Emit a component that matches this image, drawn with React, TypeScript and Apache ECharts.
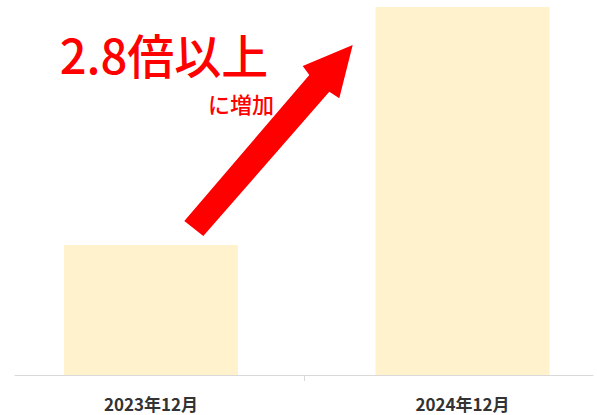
import React, { useEffect, useRef } from "react";
import * as echarts from "echarts";

const categories = ["2023年12月", "2024年12月"];
const values = [100, 283];
const headline = "2.8倍以上";
const subline = "に増加";
const axisSlots = ["", "", ""];

export default function App() {
  const ref = useRef<HTMLDivElement>(null);
  useEffect(() => {
    if (!ref.current) return;
    const chart = echarts.init(ref.current, undefined, { renderer: "svg" });
    const font = "'Noto Sans CJK JP', 'Noto Sans', sans-serif";
    chart.setOption({
      animation: false,
      backgroundColor: "#ffffff",
      grid: [
        { left: 151, right: 134.5, top: 7, bottom: 40 },
        { left: 15, right: 4, top: 7, bottom: 40 },
      ],
      xAxis: [
        {
          type: "category",
          gridIndex: 0,
          data: categories,
          boundaryGap: false,
          axisLine: { show: false },
          axisTick: { show: false },
          axisLabel: {
            color: "#333333",
            fontSize: 17,
            fontWeight: "bold",
            fontFamily: font,
            margin: 20,
          },
        },
        {
          type: "category",
          gridIndex: 1,
          data: axisSlots,
          boundaryGap: false,
          axisLine: { show: true, lineStyle: { color: "#d9d9d9", width: 1 } },
          axisTick: {
            show: true,
            length: 6,
            interval: (i: number) => i === 1,
            lineStyle: { color: "#d9d9d9" },
          },
          axisLabel: { show: false },
        },
      ],
      yAxis: [
        { type: "value", gridIndex: 0, min: 0, max: 283, show: false },
        { type: "value", gridIndex: 1, min: 0, max: 283, show: false },
      ],
      series: [
        {
          type: "bar",
          xAxisIndex: 0,
          yAxisIndex: 0,
          data: values,
          barWidth: 174,
          itemStyle: { color: "#FFF2CC" },
          z: 1,
        },
      ],
      graphic: [
        {
          type: "polygon",
          shape: {
            points: [
              [184.3, 221],
              [309.3, 75],
              [302.7, 66],
              [352.7, 45],
              [339.3, 98.3],
              [329.3, 91.7],
              [203.3, 236],
            ],
          },
          style: { fill: "#FF0000" },
          z: 10,
        },
        {
          type: "text",
          x: 164,
          y: 53,
          style: {
            text: headline,
            fill: "#FF0000",
            fontFamily: font,
            fontSize: 47,
            fontWeight: 500,
            lineHeight: 40,
            textAlign: "center",
            textVerticalAlign: "middle",
          },
          z: 10,
        },
        {
          type: "text",
          x: 274,
          y: 103,
          style: {
            text: subline,
            fill: "#FF0000",
            fontFamily: font,
            fontSize: 22,
            fontWeight: 500,
            lineHeight: 22,
            textAlign: "right",
            textVerticalAlign: "middle",
          },
          z: 10,
        },
      ],
    });
    return () => chart.dispose();
  }, []);
  return <div ref={ref} style={{ width: 597, height: 415, position: "absolute", left: 0, top: 0 }} />;
}
